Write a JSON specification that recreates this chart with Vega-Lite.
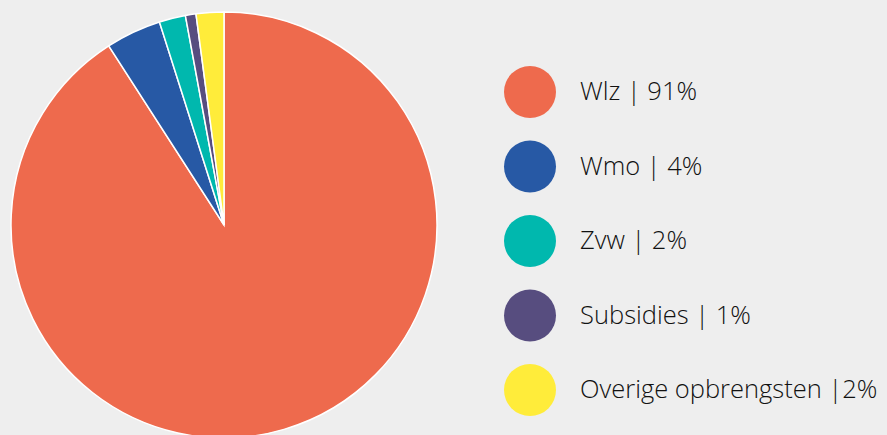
{
  "$schema": "https://vega.github.io/schema/vega-lite/v6.json",
  "width": 448,
  "height": 450,
  "autosize": {"type": "none"},
  "padding": {"left": 0, "top": 0, "right": 439, "bottom": 0},
  "background": "#eeeeee",
  "view": {"stroke": null},
  "data": {
    "values": [
      {"label": "Wlz | 91%", "value": 90.9, "order": 1},
      {"label": "Wmo | 4%", "value": 4.2, "order": 2},
      {"label": "Zvw | 2%", "value": 2.0, "order": 3},
      {"label": "Subsidies | 1%", "value": 0.8, "order": 4},
      {"label": "Overige opbrengsten |2%", "value": 2.1, "order": 5}
    ]
  },
  "mark": {"type": "arc", "outerRadius": 213, "stroke": "#ffffff", "strokeWidth": 1.5},
  "encoding": {
    "theta": {"field": "value", "type": "quantitative", "stack": true},
    "order": {"field": "order", "type": "quantitative"},
    "color": {
      "field": "label",
      "type": "nominal",
      "scale": {
        "domain": ["Wlz | 91%", "Wmo | 4%", "Zvw | 2%", "Subsidies | 1%", "Overige opbrengsten |2%"],
        "range": ["#ee6a4d", "#2759a5", "#00b8ae", "#574d7f", "#ffec3a"]
      },
      "legend": {
        "title": null,
        "orient": "none",
        "legendX": 504,
        "legendY": 66,
        "symbolType": "circle",
        "symbolSize": 2704,
        "symbolStrokeWidth": 0,
        "symbolOpacity": 1,
        "labelFont": "Open Sans",
        "labelFontWeight": 300,
        "labelFontSize": 25.5,
        "labelColor": "#111111",
        "labelOffset": 24,
        "labelLimit": 400,
        "rowPadding": 22.5
      }
    }
  }
}
